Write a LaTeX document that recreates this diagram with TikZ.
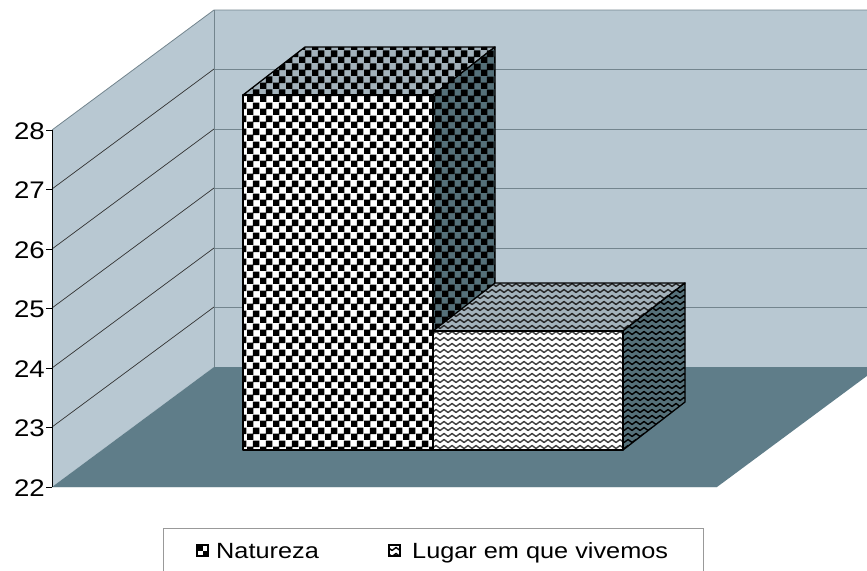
\documentclass[tikz,border=0pt]{standalone}
\usepackage{fontspec}
\setmainfont{Liberation Sans}[FakeStretch=1.15]
\usetikzlibrary{patterns}

\definecolor{wallblue}{HTML}{B8C8D2}
\definecolor{floorblue}{HTML}{5F7D89}
\definecolor{gridgray}{HTML}{73858E}
\definecolor{topgray}{HTML}{A3B2BB}
\definecolor{sidegray}{HTML}{557079}

\pgfdeclarepatternformonly{checks}{\pgfqpoint{0pt}{0pt}}{\pgfqpoint{13pt}{13pt}}{\pgfqpoint{13pt}{13pt}}{%
  \pgfpathrectangle{\pgfqpoint{-0.3pt}{-0.3pt}}{\pgfqpoint{7.1pt}{7.1pt}}%
  \pgfpathrectangle{\pgfqpoint{6.2pt}{6.2pt}}{\pgfqpoint{7.1pt}{7.1pt}}%
  \pgfusepath{fill}%
}
\pgfdeclarepatternformonly{zigzag}{\pgfqpoint{-1pt}{-1pt}}{\pgfqpoint{9pt}{7pt}}{\pgfqpoint{8pt}{6pt}}{%
  \pgfsetlinewidth{1.4pt}%
  \pgfpathmoveto{\pgfqpoint{0pt}{1.5pt}}%
  \pgfpathlineto{\pgfqpoint{4pt}{4.5pt}}%
  \pgfpathlineto{\pgfqpoint{8pt}{1.5pt}}%
  \pgfusepath{stroke}%
}

\begin{document}
\begin{tikzpicture}[x=1pt, y=-1pt,
    backline/.style = {draw=gridgray, line width=.8pt},
    sideline/.style = {draw=black!80, line width=.7pt},
    barface/.style = {draw=black, line width=1.3pt, line join=round},
    ticklabel/.style = {anchor=east, inner sep=0pt, font=\fontsize{24}{26}\selectfont},
    legendlabel/.style = {anchor=base west, inner sep=0pt, font=\fontsize{22}{24}\selectfont}]
      \useasboundingbox (0, 0) rectangle (867, 570);
      \clip (0, 0) rectangle (867, 570);
      % walls and floor
      \fill[wallblue] (214, 10) rectangle (880, 367);
      \fill[wallblue] (52, 130) -- (214, 10) -- (214, 367) -- (52, 487) -- cycle;
      \fill[floorblue] (52, 487) -- (214, 367) -- (879, 367) -- (717, 487) -- cycle;
      \draw[backline] (52, 130) -- (214, 10) -- (880, 10);
      \draw[backline] (214, 10) -- (214, 367);
      \draw[backline] (214, 69) -- (880, 69);
      \draw[backline] (214, 129) -- (880, 129);
      \draw[backline] (214, 188) -- (880, 188);
      \draw[backline] (214, 248) -- (880, 248);
      \draw[backline] (214, 307) -- (880, 307);
      \draw[sideline] (52, 189) -- (214, 69);
      \draw[sideline] (52, 249) -- (214, 129);
      \draw[sideline] (52, 308) -- (214, 188);
      \draw[sideline] (52, 368) -- (214, 248);
      \draw[sideline] (52, 427) -- (214, 307);
      \draw[draw=white!80!floorblue, line width=.8pt] (52, 487) -- (717, 487);
      % axis
      \draw[black, line width=.8pt] (52, 130) -- (52, 487);
      \draw[black, line width=.8pt] (46, 130) -- (52, 130);
      \draw[black, line width=.8pt] (46, 189) -- (52, 189);
      \draw[black, line width=.8pt] (46, 249) -- (52, 249);
      \draw[black, line width=.8pt] (46, 308) -- (52, 308);
      \draw[black, line width=.8pt] (46, 368) -- (52, 368);
      \draw[black, line width=.8pt] (46, 427) -- (52, 427);
      \draw[black, line width=.8pt] (46, 487) -- (52, 487);
      \node[ticklabel] (l28) at (45, 131) {28};
      \node[ticklabel] (l27) at (45, 190) {27};
      \node[ticklabel] (l26) at (45, 250) {26};
      \node[ticklabel] (l25) at (45, 309) {25};
      \node[ticklabel] (l24) at (45, 369) {24};
      \node[ticklabel] (l23) at (45, 428) {23};
      \node[ticklabel] (l22) at (45, 488) {22};
      % bar Natureza
      \draw[barface, preaction={fill=topgray}, pattern=checks] (243, 95) -- (305, 47) -- (495, 47) -- (433, 95) -- cycle;
      \draw[barface, preaction={fill=sidegray}, pattern=checks] (433, 95) -- (495, 47) -- (495, 402) -- (433, 450) -- cycle;
      \draw[barface, preaction={fill=white}, pattern=checks] (243, 95) rectangle (433, 450);
      % bar Lugar em que vivemos
      \draw[barface, preaction={fill=topgray}, pattern=zigzag, pattern color=black!85] (433, 331) -- (495, 283) -- (685, 283) -- (623, 331) -- cycle;
      \draw[barface, preaction={fill=sidegray}, pattern=zigzag] (623, 331) -- (685, 283) -- (685, 402) -- (623, 450) -- cycle;
      \draw[barface, preaction={fill=white}, pattern=zigzag, pattern color=black!75] (433, 331) rectangle (623, 450);
      % legend
      \draw[fill=white, draw=gray!80, line width=.8pt] (163, 528) rectangle (703, 580);
      \draw[black, fill=white, line width=1.2pt] (197, 545) rectangle (208, 556);
      \fill[black] (197, 545) rectangle (202.5, 550.5);
      \fill[black] (202.5, 550.5) rectangle (208, 556);
      \node[legendlabel] (natureza) at (216, 558) {Natureza};
      \draw[black, line width=1.2pt, preaction={fill=white}, pattern=zigzag] (389, 545) rectangle (400, 556);
      \node[legendlabel] (lugar) at (412, 558) {Lugar em que vivemos};
    \end{tikzpicture}
\end{document}
